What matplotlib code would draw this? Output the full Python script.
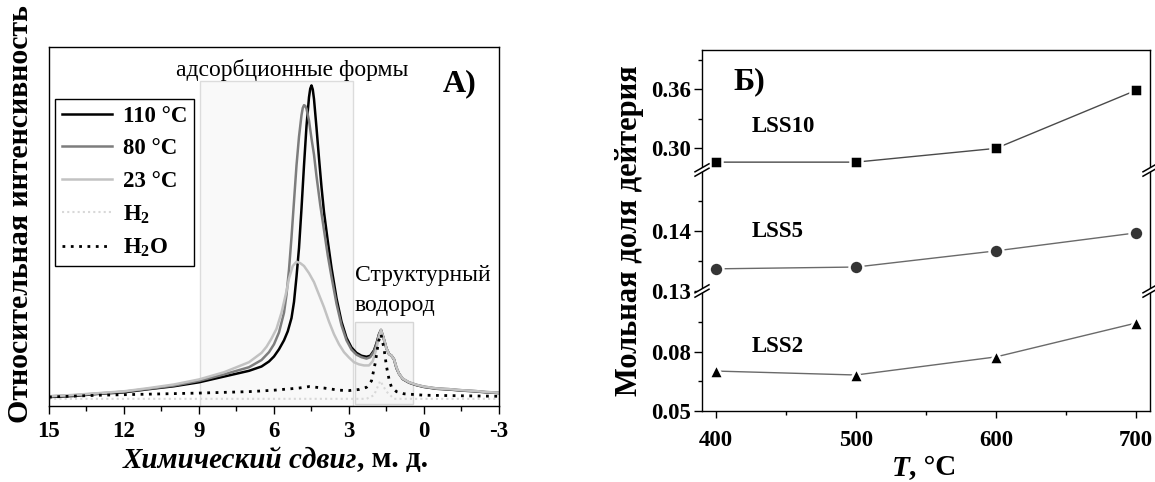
import matplotlib
matplotlib.use('Agg')
import matplotlib.pyplot as plt
from matplotlib.patches import Rectangle, Polygon
from matplotlib.lines import Line2D
from matplotlib.ticker import MultipleLocator, FixedLocator, FormatStrFormatter

plt.rcParams['font.family'] = 'Liberation Serif'
plt.rcParams['mathtext.fontset'] = 'custom'
plt.rcParams['mathtext.rm'] = 'Liberation Serif'
plt.rcParams['mathtext.bf'] = 'Liberation Serif:bold'
plt.rcParams['mathtext.it'] = 'Liberation Serif:italic'
plt.rcParams['axes.unicode_minus'] = False

# --- спектры, ось y в отн. ед.
shift_110 = [15.0, 14.0, 13.0, 12.0, 11.0, 10.0, 9.0, 8.0, 7.0, 6.5, 6.2, 6.0, 5.8, 5.6, 5.45, 5.3, 5.2, 5.1, 5.0,
             4.9, 4.8, 4.7, 4.6, 4.55, 4.5, 4.45, 4.4, 4.3, 4.2, 4.1, 4.0, 3.85, 3.7, 3.5, 3.3, 3.1, 2.9, 2.7, 2.5,
             2.3, 2.15, 2.0, 1.9, 1.8, 1.72, 1.62, 1.5, 1.4, 1.3, 1.2, 1.1, 1.0, 0.85, 0.6, 0.3, 0.0, -0.5, -1.0,
             -1.5, -2.0, -2.5, -3.0]
int_110 = [0.025, 0.028, 0.034, 0.038, 0.047, 0.055, 0.066, 0.082, 0.098, 0.11, 0.124, 0.138, 0.158, 0.183, 0.208,
           0.245, 0.29, 0.36, 0.44, 0.55, 0.67, 0.78, 0.86, 0.884, 0.893, 0.882, 0.855, 0.775, 0.69, 0.61, 0.54,
           0.46, 0.385, 0.3, 0.235, 0.19, 0.163, 0.148, 0.14, 0.137, 0.14, 0.155, 0.175, 0.20, 0.212, 0.19, 0.16,
           0.145, 0.14, 0.13, 0.105, 0.09, 0.075, 0.065, 0.058, 0.053, 0.048, 0.046, 0.043, 0.041, 0.038, 0.036]

shift_80 = [15.0, 14.0, 13.0, 12.0, 11.0, 10.0, 9.0, 8.0, 7.0, 6.5, 6.2, 6.0, 5.8, 5.6, 5.5, 5.4, 5.3, 5.2, 5.1,
            5.0, 4.9, 4.85, 4.8, 4.75, 4.7, 4.6, 4.5, 4.4, 4.3, 4.15, 4.0, 3.85, 3.7, 3.5, 3.3, 3.1, 2.9, 2.7, 2.5,
            2.3, 2.15, 2.0, 1.9, 1.8, 1.72, 1.62, 1.5, 1.4, 1.3, 1.2, 1.1, 1.0, 0.85, 0.6, 0.3, 0.0, -0.5, -1.0,
            -1.5, -2.0, -2.5, -3.0]
int_80 = [0.027, 0.030, 0.035, 0.040, 0.048, 0.057, 0.07, 0.088, 0.108, 0.128, 0.15, 0.172, 0.205, 0.26, 0.31,
          0.38, 0.47, 0.57, 0.67, 0.75, 0.81, 0.83, 0.838, 0.836, 0.828, 0.795, 0.745, 0.70, 0.64, 0.56, 0.49, 0.42,
          0.36, 0.285, 0.225, 0.183, 0.157, 0.143, 0.136, 0.132, 0.136, 0.152, 0.172, 0.198, 0.21, 0.19, 0.16,
          0.145, 0.14, 0.13, 0.107, 0.09, 0.076, 0.066, 0.059, 0.054, 0.049, 0.047, 0.044, 0.042, 0.039, 0.037]

shift_23 = [15.0, 14.0, 13.0, 12.0, 11.0, 10.0, 9.0, 8.0, 7.0, 6.5, 6.3, 6.1, 5.9, 5.7, 5.5, 5.4, 5.25, 5.1, 4.95,
            4.8, 4.6, 4.4, 4.2, 4.0, 3.8, 3.6, 3.4, 3.2, 3.0, 2.8, 2.6, 2.4, 2.2, 2.05, 1.9, 1.8, 1.72, 1.62, 1.5,
            1.4, 1.3, 1.2, 1.1, 1.0, 0.85, 0.6, 0.3, 0.0, -0.5, -1.0, -1.5, -2.0, -2.5, -3.0]
int_23 = [0.027, 0.031, 0.036, 0.041, 0.05, 0.06, 0.074, 0.094, 0.122, 0.148, 0.165, 0.188, 0.215, 0.26, 0.32,
          0.355, 0.39, 0.402, 0.398, 0.39, 0.37, 0.345, 0.31, 0.275, 0.235, 0.2, 0.172, 0.15, 0.135, 0.122, 0.116,
          0.113, 0.113, 0.125, 0.16, 0.195, 0.212, 0.19, 0.16, 0.145, 0.14, 0.13, 0.107, 0.09, 0.076, 0.066,
          0.059, 0.054, 0.049, 0.047, 0.044, 0.042, 0.039, 0.037]

shift_h2o = [15.0, 13.0, 11.0, 9.0, 7.0, 6.0, 5.0, 4.6, 4.0, 3.4, 3.0, 2.6, 2.3, 2.1, 1.95, 1.82, 1.72, 1.6, 1.5,
             1.4, 1.3, 1.1, 0.8, 0.0, -3.0]
int_h2o = [0.025, 0.03, 0.033, 0.036, 0.04, 0.044, 0.05, 0.054, 0.05, 0.044, 0.043, 0.046, 0.052, 0.07, 0.12,
           0.18, 0.2, 0.16, 0.11, 0.075, 0.052, 0.04, 0.034, 0.03, 0.027]

shift_h2 = [15.0, 2.3, 2.0, 1.75, 1.5, 1.2, -3.0]
int_h2 = [0.02, 0.02, 0.03, 0.07, 0.04, 0.02, 0.02]

# --- мольная доля дейтерия
temps = [400, 500, 600, 700]
lss10 = [0.286, 0.286, 0.300, 0.359]
lss5 = [0.1337, 0.1340, 0.1367, 0.1397]
lss2 = [0.0703, 0.0683, 0.0775, 0.0947]

W, H = 1155, 482
fig = plt.figure(figsize=(W / 100, H / 100), dpi=100)


def fx(px):
    return px / W


def fy(py):
    return 1 - py / H


# ================= A) =================
ax = fig.add_axes([fx(49), fy(406), fx(450), 359 / H])
ax.add_patch(Rectangle((8.96, 0), 2.85 - 8.96, 0.905, facecolor='#f9f9f9', edgecolor='#dcdcdc', lw=1, zorder=0))
ax.add_patch(Rectangle((2.76, 0.005), 0.43 - 2.76, 0.23, facecolor='#f6f6f6', edgecolor='#d6d6d6', lw=1, zorder=0))

l_h2, = ax.plot(shift_h2, int_h2, color='#d8d8d8', lw=1.5, ls=(0, (1, 1.5)))
l110, = ax.plot(shift_110, int_110, color='black', lw=1.8)
l80, = ax.plot(shift_80, int_80, color='#7d7d7d', lw=1.8)
l23, = ax.plot(shift_23, int_23, color='#c2c2c2', lw=1.8)
l_h2o, = ax.plot(shift_h2o, int_h2o, color='black', lw=2, ls=(0, (1, 2)))

ax.set_xlim(15, -3)
ax.set_ylim(0, 1)
ax.set_yticks([])
ax.xaxis.set_major_locator(MultipleLocator(3))
ax.xaxis.set_minor_locator(MultipleLocator(1.5))
ax.tick_params(axis='x', which='major', direction='out', length=6, width=1, labelsize=16.5, pad=5)
ax.tick_params(axis='x', which='minor', direction='out', length=3.5, width=1)
for lab in ax.get_xticklabels():
    lab.set_fontweight('bold')
for sp in ax.spines.values():
    sp.set_linewidth(1)

leg = ax.legend([l110, l80, l23, l_h2, l_h2o],
                ['110 °C', '80 °C', '23 °C', r'$\mathbf{H_2}$', r'$\mathbf{H_2O}$'],
                loc='upper left', bbox_to_anchor=((55 - 49) / 450, (406 - 99) / 359),
                borderaxespad=0, prop={'weight': 'bold', 'size': 16.5},
                handlelength=2.2, handletextpad=0.45, labelspacing=0.5, borderpad=0.3,
                fancybox=False, framealpha=1, edgecolor='black')
leg.get_frame().set_linewidth(1)

fig.text(fx(292), fy(70), 'адсорбционные формы', size=17, ha='center', va='center')
fig.text(fx(443), fy(84), 'А)', size=23, weight='bold', ha='left', va='center')
fig.text(fx(355), fy(276), 'Структурный', size=17, ha='left', va='center')
fig.text(fx(355), fy(305), 'водород', size=17, ha='left', va='center')

fig.text(fx(21), fy(214), 'Относительная интенсивность', size=21.5, weight='bold',
         rotation=90, ha='center', va='center')

renderer = fig.canvas.get_renderer()


def split_label(cx, cy, part1, part2, size):
    t1 = fig.text(0, fy(cy), part1, size=size, weight='bold', style='italic', va='center', ha='left')
    t2 = fig.text(0, fy(cy), part2, size=size, weight='bold', va='center', ha='left')
    w1 = t1.get_window_extent(renderer).width
    w2 = t2.get_window_extent(renderer).width
    x0 = cx - (w1 + w2) / 2
    t1.set_x(fx(x0))
    t2.set_x(fx(x0 + w1))


split_label(275, 460, 'Химический сдвиг', ', м. д.', 21)

# ================= Б) =================
left, width = fx(702), fx(448)
ax_top = fig.add_axes([left, fy(170), width, 120 / H])
ax_mid = fig.add_axes([left, fy(291), width, 121 / H], sharex=ax_top)
ax_bot = fig.add_axes([left, fy(411), width, 120 / H], sharex=ax_top)

ax_top.plot(temps, lss10, '-', color='#4a4a4a', lw=1, marker='s', ms=9, mfc='black', mec='white', mew=1.8)
ax_mid.plot(temps, lss5, '-', color='#6a6a6a', lw=1, marker='o', ms=10, mfc='#353535', mec='white', mew=1.8)
ax_bot.plot(temps, lss2, '-', color='#6a6a6a', lw=1, marker='^', ms=10.5, mfc='black', mec='white', mew=1.8)

ax_top.set_ylim(0.278, 0.40)
ax_mid.set_ylim(0.13, 0.1502)
ax_bot.set_ylim(0.05, 0.111)
ax_top.yaxis.set_major_locator(FixedLocator([0.30, 0.36]))
ax_top.yaxis.set_minor_locator(FixedLocator([0.33, 0.39]))
ax_mid.yaxis.set_major_locator(FixedLocator([0.13, 0.14]))
ax_mid.yaxis.set_minor_locator(FixedLocator([0.135, 0.145]))
ax_bot.yaxis.set_major_locator(FixedLocator([0.05, 0.08]))
ax_bot.yaxis.set_minor_locator(FixedLocator([0.065, 0.095]))

ax_bot.set_xlim(390, 710)
ax_bot.xaxis.set_major_locator(FixedLocator(temps))
ax_bot.xaxis.set_minor_locator(MultipleLocator(50))

for a in (ax_top, ax_mid, ax_bot):
    a.yaxis.set_major_formatter(FormatStrFormatter('%.2f'))
    a.tick_params(axis='y', which='major', direction='out', length=6, width=1, labelsize=16.5, pad=2)
    a.tick_params(axis='y', which='minor', direction='out', length=3, width=1)
    for sp in a.spines.values():
        sp.set_linewidth(1)
    for lab in a.get_yticklabels():
        lab.set_fontweight('bold')
ax_top.spines['bottom'].set_visible(False)
ax_mid.spines['top'].set_visible(False)
ax_mid.spines['bottom'].set_visible(False)
ax_bot.spines['top'].set_visible(False)
for a in (ax_top, ax_mid):
    a.tick_params(axis='x', which='both', bottom=False, labelbottom=False)
ax_bot.tick_params(axis='x', which='major', direction='out', length=5, width=1, labelsize=16.5, pad=9)
ax_bot.tick_params(axis='x', which='minor', direction='out', length=3, width=1)
for lab in ax_bot.get_xticklabels():
    lab.set_fontweight('bold')

# разрывы оси
for by in (170, 291):
    for bx in (702, 1150):
        fig.add_artist(Polygon([(fx(bx - 7), fy(by + 6)), (fx(bx + 7), fy(by - 2)),
                                (fx(bx + 7), fy(by - 6)), (fx(bx - 7), fy(by + 2))],
                               closed=True, transform=fig.transFigure, facecolor='white', edgecolor='none'))
        for off in (-2.2, 2.2):
            fig.add_artist(Line2D([fx(bx - 7), fx(bx + 7)], [fy(by + 4 + off), fy(by - 4 + off)],
                                  transform=fig.transFigure, color='black', lw=1.1))

fig.text(fx(749), fy(82), 'Б)', size=23, weight='bold', ha='center', va='center')
fig.text(fx(752), fy(126), 'LSS10', size=16.5, weight='bold', ha='left', va='center')
fig.text(fx(752), fy(231), 'LSS5', size=16.5, weight='bold', ha='left', va='center')
fig.text(fx(752), fy(347), 'LSS2', size=16.5, weight='bold', ha='left', va='center')

fig.text(fx(629), fy(231), 'Мольная доля дейтерия', size=22, weight='bold',
         rotation=90, ha='center', va='center')
split_label(924, 468, 'T', ', °C', 21)

fig.savefig('out.png', dpi=100)
